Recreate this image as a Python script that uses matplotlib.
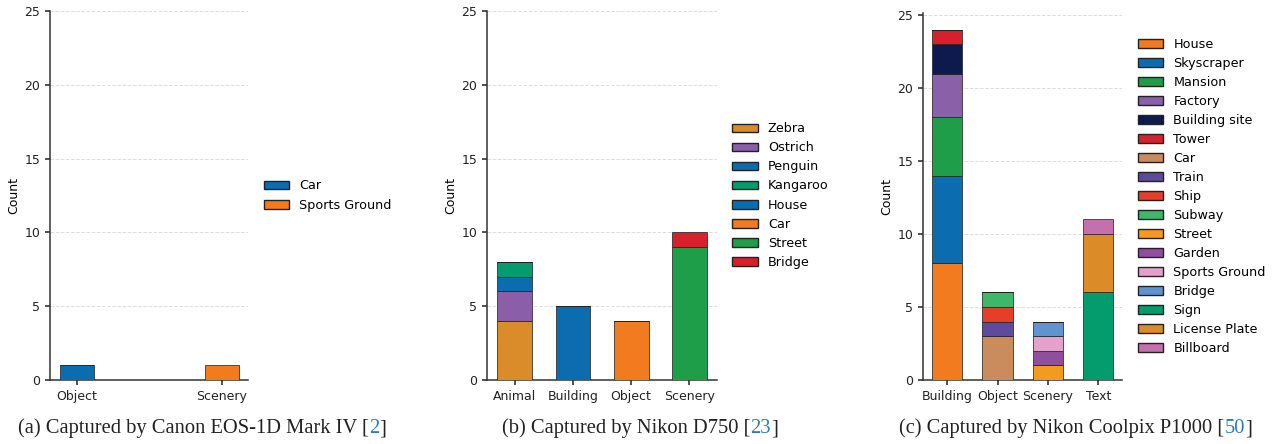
import numpy as np
import matplotlib
matplotlib.use('Agg')
import matplotlib.pyplot as plt

# Panel (a) Canon EOS-1D Mark IV
a_groups = ['Object', 'Scenery']
a_labels = ['Car', 'Sports Ground']
a_counts = [[1, 0],   # Car
            [0, 1]]   # Sports Ground
a_colors = ['#0b6db0', '#f27b20']

# Panel (b) Nikon D750
b_groups = ['Animal', 'Building', 'Object', 'Scenery']
b_labels = ['Zebra', 'Ostrich', 'Penguin', 'Kangaroo', 'House', 'Car', 'Street', 'Bridge']
b_counts = [[4, 0, 0, 0],
            [2, 0, 0, 0],
            [1, 0, 0, 0],
            [1, 0, 0, 0],
            [0, 5, 0, 0],
            [0, 0, 4, 0],
            [0, 0, 0, 9],
            [0, 0, 0, 1]]
b_colors = ['#db8c2a', '#8a5ea8', '#0b6db0', '#049b6e', '#0b6db0', '#f27b20', '#1e9e48', '#d7202a']

# Panel (c) Nikon Coolpix P1000
c_groups = ['Building', 'Object', 'Scenery', 'Text']
c_labels = ['House', 'Skyscraper', 'Mansion', 'Factory', 'Building site', 'Tower',
            'Car', 'Train', 'Ship', 'Subway', 'Street', 'Garden', 'Sports Ground',
            'Bridge', 'Sign', 'License Plate', 'Billboard']
c_counts = [[8, 0, 0, 0],
            [6, 0, 0, 0],
            [4, 0, 0, 0],
            [3, 0, 0, 0],
            [2, 0, 0, 0],
            [1, 0, 0, 0],
            [0, 3, 0, 0],
            [0, 1, 0, 0],
            [0, 1, 0, 0],
            [0, 1, 0, 0],
            [0, 0, 1, 0],
            [0, 0, 1, 0],
            [0, 0, 1, 0],
            [0, 0, 1, 0],
            [0, 0, 0, 6],
            [0, 0, 0, 4],
            [0, 0, 0, 1]]
c_colors = ['#f27b20', '#0b6db0', '#1e9e48', '#8a60a8', '#0c1a4e', '#d7202a',
            '#ca8c5c', '#5e4b9e', '#e53f2c', '#3db76a', '#f29b20', '#8f4e9e',
            '#e3a1cc', '#5e95d0', '#049b6d', '#db8c28', '#c56faf']

captions = [('(a) Captured by Canon EOS-1D Mark IV [', '2'),
            ('(b) Captured by Nikon D750 [', '23'),
            ('(c) Captured by Nikon Coolpix P1000 [', '50')]

plt.rcParams['font.family'] = 'DejaVu Sans'
plt.rcParams['font.size'] = 9

W, H = 1279, 444
fig = plt.figure(figsize=(W / 100, H / 100), dpi=100)


def px_axes(x0, x1, y_top, y_bot):
    return fig.add_axes([x0 / W, 1 - y_bot / H, (x1 - x0) / W, (y_bot - y_top) / H])


def stacked(ax, groups, labels, counts, colors, width, xlim, ylim):
    x = np.arange(len(groups))
    bottom = np.zeros(len(groups))
    for lab, vals, col in zip(labels, counts, colors):
        vals = np.array(vals, dtype=float)
        ax.bar(x, vals, width, bottom=bottom, color=col, label=lab,
               edgecolor=(0.13, 0.13, 0.13, 0.75), linewidth=0.7, zorder=3)
        bottom += vals
    ax.set_xticks(x)
    ax.set_xticklabels(groups)
    ax.set_xlim(*xlim)
    ax.set_ylim(*ylim)
    ax.set_yticks([0, 5, 10, 15, 20, 25])
    ax.set_ylabel('Count', labelpad=3)
    ax.yaxis.grid(True, linestyle='--', color='#dddddd', linewidth=0.7, zorder=0)
    ax.set_axisbelow(True)
    for s in ['top', 'right']:
        ax.spines[s].set_visible(False)
    for s in ['left', 'bottom']:
        ax.spines[s].set_linewidth(1.1)
        ax.spines[s].set_color('#333333')
    ax.tick_params(colors='#222222', width=1.1, length=3.5, labelsize=9)
    w_px = ax.get_position().width * W
    leg = ax.legend(loc='center left', bbox_to_anchor=(1 + 4 / w_px, 0.5), frameon=False,
                    fontsize=9.2, labelspacing=0.47)
    for h in leg.legend_handles:
        h.set_edgecolor('#222222')
        h.set_linewidth(1.0)
    return ax


ax_a = px_axes(50, 248, 11, 380)
stacked(ax_a, a_groups, a_labels, a_counts, a_colors, 0.24, (-0.186, 1.18), (0, 25))

ax_b = px_axes(487, 716.5, 11, 380)
stacked(ax_b, b_groups, b_labels, b_counts, b_colors, 0.6, (-0.48, 3.47), (0, 25))

ax_c = px_axes(923, 1122, 13, 380)
stacked(ax_c, c_groups, c_labels, c_counts, c_colors, 0.6, (-0.48, 3.47), (0, 25.15))

# captions with blue citation numbers
cap_x = [18, 502, 899]
cap_fs = 14.8
for (txt, ref), cx in zip(captions, cap_x):
    t1 = fig.text(cx / W, 1 - 433 / H, txt, family='Liberation Serif', fontsize=cap_fs,
                  color='#222222', va='baseline', ha='left')
    t2 = fig.add_artist(matplotlib.text.Annotation(
        ref, xy=(1, 0), xycoords=t1, va='bottom', ha='left',
        family='Liberation Serif', fontsize=cap_fs, color='#2b7bba', annotation_clip=False))
    fig.add_artist(matplotlib.text.Annotation(
        ']', xy=(1, 0), xycoords=t2, va='bottom', ha='left',
        family='Liberation Serif', fontsize=cap_fs, color='#222222', annotation_clip=False))

fig.savefig('out.png', dpi=100)
